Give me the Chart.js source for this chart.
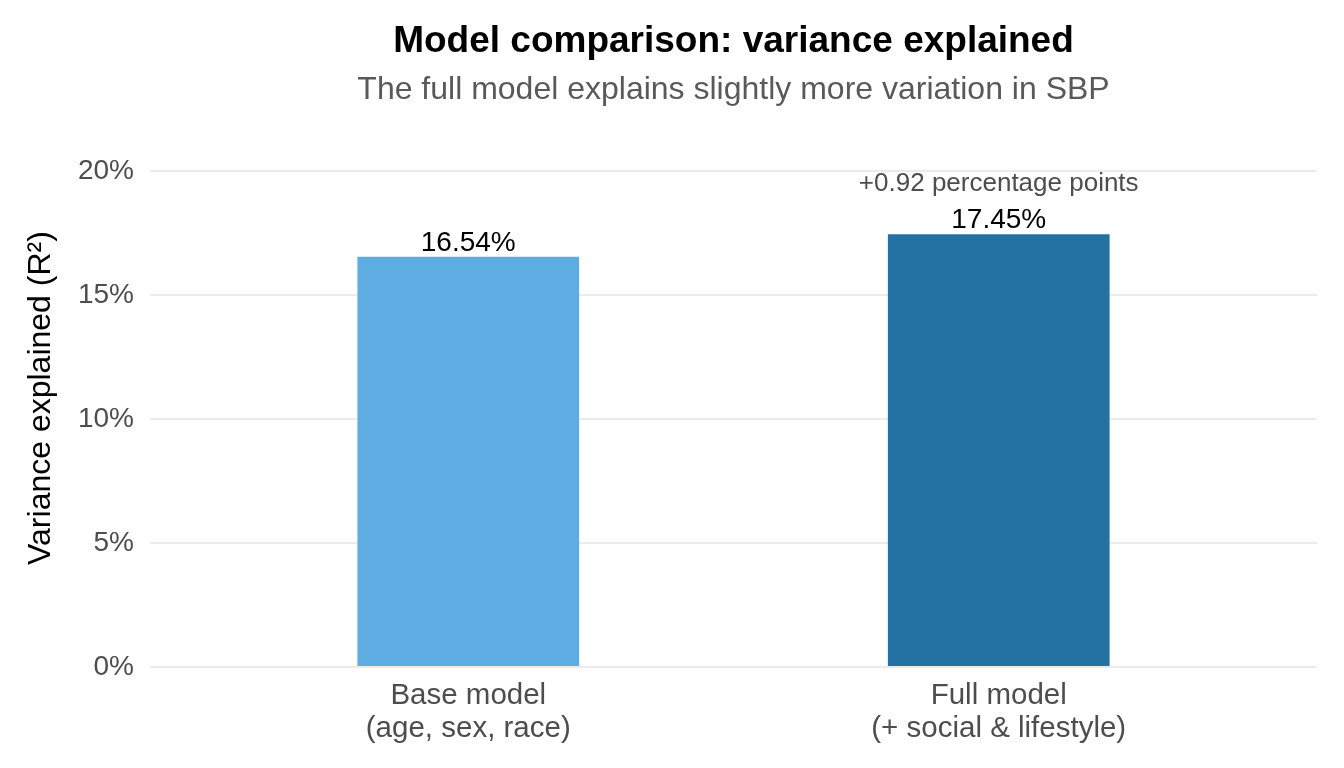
<!DOCTYPE html>
<html>
<head>
<meta charset="utf-8">
<title>Model comparison</title>
<script src="https://cdn.jsdelivr.net/npm/chart.js@4.4.1/dist/chart.umd.min.js"></script>
<style>
  html, body { margin: 0; padding: 0; background: #fff; }
  #wrap { width: 1344px; height: 768px; }
</style>
</head>
<body>
<div id="wrap"><canvas id="grafico" width="1344" height="768"></canvas></div>
<script>
// Datos del gráfico
const modelos = [["Base model", "(age, sex, race)"], ["Full model", "(+ social & lifestyle)"]];
const r2 = [16.54, 17.45];
const colores = ["#5DADE2", "#2471A3"];
const ticksY = [0, 5, 10, 15, 20];
const diferencia = "+0.92 percentage points";
const titulo = "Model comparison: variance explained";
const subtitulo = "The full model explains slightly more variation in SBP";
const tituloY = "Variance explained (R²)";

const fuente = "'Liberation Sans', Arial, Helvetica, sans-serif";

// Títulos + etiquetas sobre las barras
const etiquetas = {
  id: "etiquetas",
  afterDraw(chart) {
    const ctx = chart.ctx;
    const area = chart.chartArea;
    const cx = (area.left + area.right) / 2;
    ctx.save();
    ctx.textAlign = "center";
    ctx.textBaseline = "middle";
    ctx.fillStyle = "#000";
    ctx.font = "bold 37px " + fuente;
    ctx.fillText(titulo, cx, 42);
    ctx.fillStyle = "#595959";
    ctx.font = "32px " + fuente;
    ctx.fillText(subtitulo, cx, 90);

    // título del eje Y (rotado)
    ctx.save();
    ctx.translate(41, 398);
    ctx.rotate(-Math.PI / 2);
    ctx.fillStyle = "#000";
    ctx.font = "32px " + fuente;
    ctx.fillText(tituloY, 0, 0);
    ctx.restore();

    const meta = chart.getDatasetMeta(0);
    ctx.textBaseline = "alphabetic";
    meta.data.forEach((bar, i) => {
      ctx.fillStyle = "#000";
      ctx.font = "28px " + fuente;
      ctx.fillText(r2[i].toFixed(2) + "%", bar.x, bar.y - 6);
    });
    const ultima = meta.data[meta.data.length - 1];
    ctx.fillStyle = "#4D4D4D";
    ctx.font = "26px " + fuente;
    ctx.fillText(diferencia, ultima.x, ultima.y - 43);
    ctx.restore();
  }
};

new Chart(document.getElementById("grafico"), {
  type: "bar",
  data: {
    datasets: [{
      data: r2.map((v, i) => ({ x: i, y: v })),
      backgroundColor: colores,
      borderWidth: 0,
      barPercentage: 0.418,
      categoryPercentage: 1
    }]
  },
  options: {
    responsive: false,
    animation: false,
    devicePixelRatio: 1,
    layout: { padding: { left: 0, right: 27, top: 171, bottom: 0 } },
    plugins: {
      legend: { display: false },
      tooltip: { enabled: false },
      title: { display: false }
    },
    scales: {
      x: {
        type: "linear",
        min: -0.6,
        max: 1.6,
        offset: false,
        grid: { display: false },
        border: { display: false },
        afterBuildTicks: (axis) => { axis.ticks = modelos.map((m, i) => ({ value: i })); },
        afterFit: (axis) => { axis.height = 101; },
        ticks: {
          color: "#4D4D4D",
          font: { family: fuente, size: 29.5, lineHeight: 1.12 },
          padding: 4,
          maxRotation: 0,
          callback: (v) => modelos[v]
        }
      },
      y: {
        min: 0,
        max: 20,
        afterBuildTicks: (axis) => { axis.ticks = ticksY.map(v => ({ value: v })); },
        afterFit: (axis) => { axis.width = 150; },
        grid: { color: "#EBEBEB", lineWidth: 2, drawTicks: false },
        border: { display: false },
        ticks: {
          color: "#4D4D4D",
          font: { family: fuente, size: 28 },
          padding: 16,
          callback: (v) => v + "%"
        }
      }
    }
  },
  plugins: [etiquetas]
});
</script>
</body>
</html>
